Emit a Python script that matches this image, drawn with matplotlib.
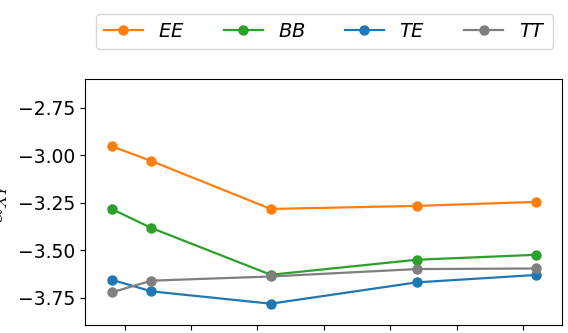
import numpy as np
import matplotlib
matplotlib.use("Agg")
import matplotlib.pyplot as plt

# x positions of the measurements (tick labels are cropped out of the reference)
x = [-0.2, 0.4, 2.2, 4.4, 6.2]
ee = [-2.953, -3.031, -3.283, -3.267, -3.246]
bb = [-3.283, -3.383, -3.629, -3.550, -3.524]
te = [-3.655, -3.716, -3.781, -3.669, -3.630]
tt = [-3.722, -3.660, -3.638, -3.599, -3.596]
labels = ["$EE$", "$BB$", "$TE$", "$TT$"]
colors = ["tab:orange", "tab:green", "tab:blue", "tab:gray"]

plt.rcParams['font.size'] = 13.5

fig = plt.figure(figsize=(5.68, 3.33), dpi=100)
ax = fig.add_axes([85/568, 1 - 325/333, 477/568, 246/333])

for ys, lab, c in zip((ee, bb, te, tt), labels, colors):
    ax.plot(x, ys, marker='o', color=c, lw=1.6, ms=6.5, label=lab)

ax.set_xlim(-0.6, 6.59)
ax.set_ylim(-3.893, -2.60)
ax.set_xticks(range(7))
ax.set_yticks([-2.75, -3.0, -3.25, -3.5, -3.75])
ax.set_ylabel(r"$\alpha_{XY}$", fontsize=17, labelpad=6, math_fontfamily='cm')

ax.legend(ncol=4, loc='upper left', bbox_to_anchor=(96/568, 1 - 14/333),
          bbox_transform=fig.transFigure, borderaxespad=0, fontsize=14)

fig.savefig("out.png", dpi=100)
